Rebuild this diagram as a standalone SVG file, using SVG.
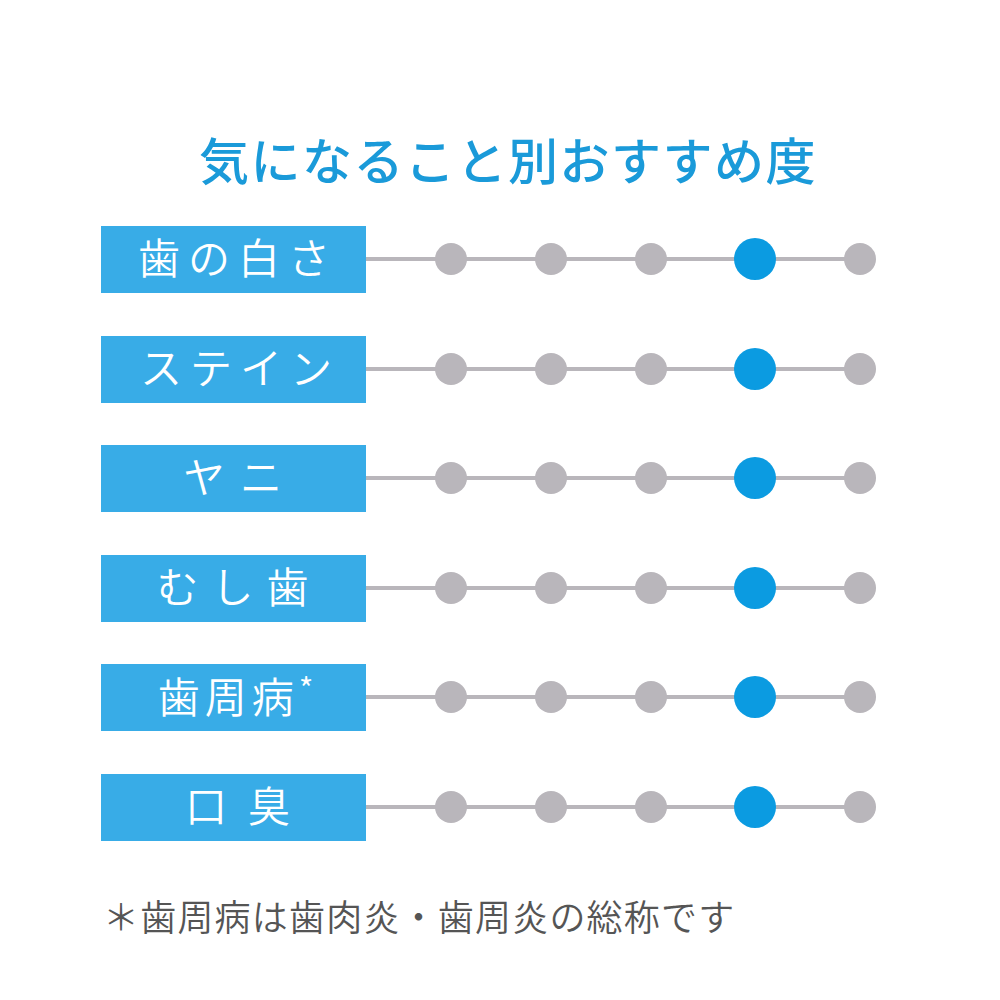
<svg xmlns="http://www.w3.org/2000/svg" width="1000" height="1000" viewBox="0 0 1000 1000">
<style>
text{font-family:"Noto Sans CJK JP","Noto Sans CJK SC",sans-serif}
.title{font-size:50px;fill:#1a9ad9;font-weight:500;letter-spacing:1.5px}
.box{fill:#38ace7}
.lbl{font-size:42px;fill:#ffffff;text-anchor:middle;font-weight:350}
.track{stroke:#b9b6bb;stroke-width:4}
.dot{fill:#b9b6bb}
.on{fill:#0b9be1}
.note{font-size:36px;fill:#555555;font-weight:350}
</style>
<rect width="1000" height="1000" fill="#ffffff"/>
<g id="title"><text class="title" x="508" y="180" text-anchor="middle">気になること別おすすめ度</text></g>
<g id="connectors">
<line class="track" x1="366" y1="259" x2="860" y2="259"/>
<line class="track" x1="366" y1="369" x2="860" y2="369"/>
<line class="track" x1="366" y1="478" x2="860" y2="478"/>
<line class="track" x1="366" y1="588" x2="860" y2="588"/>
<line class="track" x1="366" y1="697" x2="860" y2="697"/>
<line class="track" x1="366" y1="807" x2="860" y2="807"/>
</g>
<g id="row1">
<rect class="box" x="101" y="226" width="265" height="67"/>
<text class="lbl" x="238" y="274" letter-spacing="8">歯の白さ</text>
<circle class="dot" cx="451" cy="259" r="16"/><circle class="dot" cx="551" cy="259" r="16"/><circle class="dot" cx="651" cy="259" r="16"/><circle class="on" cx="755" cy="259" r="21"/><circle class="dot" cx="860" cy="259" r="16"/>
</g>
<g id="row2">
<rect class="box" x="101" y="336" width="265" height="67"/>
<text class="lbl" x="240" y="384" letter-spacing="8">ステイン</text>
<circle class="dot" cx="451" cy="369" r="16"/><circle class="dot" cx="551" cy="369" r="16"/><circle class="dot" cx="651" cy="369" r="16"/><circle class="on" cx="755" cy="369" r="21"/><circle class="dot" cx="860" cy="369" r="16"/>
</g>
<g id="row3">
<rect class="box" x="101" y="445" width="265" height="67"/>
<text class="lbl" x="240" y="493" letter-spacing="15">ヤニ</text>
<circle class="dot" cx="451" cy="478" r="16"/><circle class="dot" cx="551" cy="478" r="16"/><circle class="dot" cx="651" cy="478" r="16"/><circle class="on" cx="755" cy="478" r="21"/><circle class="dot" cx="860" cy="478" r="16"/>
</g>
<g id="row4">
<rect class="box" x="101" y="555" width="265" height="67"/>
<text class="lbl" x="239" y="603" letter-spacing="13">むし歯</text>
<circle class="dot" cx="451" cy="588" r="16"/><circle class="dot" cx="551" cy="588" r="16"/><circle class="dot" cx="651" cy="588" r="16"/><circle class="on" cx="755" cy="588" r="21"/><circle class="dot" cx="860" cy="588" r="16"/>
</g>
<g id="row5">
<rect class="box" x="101" y="664" width="265" height="67"/>
<text class="lbl" x="238" y="713" letter-spacing="5">歯周病<tspan font-size="32" dy="-12">*</tspan></text>
<circle class="dot" cx="451" cy="697" r="16"/><circle class="dot" cx="551" cy="697" r="16"/><circle class="dot" cx="651" cy="697" r="16"/><circle class="on" cx="755" cy="697" r="21"/><circle class="dot" cx="860" cy="697" r="16"/>
</g>
<g id="row6">
<rect class="box" x="101" y="774" width="265" height="67"/>
<text class="lbl" x="248" y="822" letter-spacing="21">口臭</text>
<circle class="dot" cx="451" cy="807" r="16"/><circle class="dot" cx="551" cy="807" r="16"/><circle class="dot" cx="651" cy="807" r="16"/><circle class="on" cx="755" cy="807" r="21"/><circle class="dot" cx="860" cy="807" r="16"/>
</g>
<g id="footnote"><text class="note" x="103" y="931" letter-spacing="1.2">＊歯周病は歯肉炎・歯周炎の総称です</text></g>
</svg>
